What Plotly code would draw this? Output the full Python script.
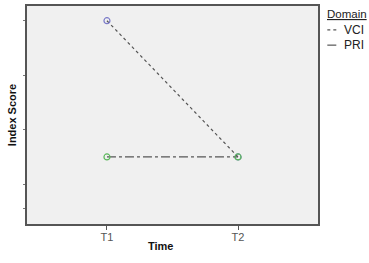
import plotly.graph_objects as go

times = ["T1", "T2"]
x_pos = [0, 1]
vci = [110, 85]
pri = [85, 85]
y_ticks = [110, 100, 90, 80, 75.5]

fig = go.Figure()
fig.add_trace(go.Scatter(x=x_pos, y=vci, mode="lines+markers", name="VCI",
                         line=dict(color="#555555", width=1.2, dash="dot"),
                         marker=dict(symbol="circle-open", size=6, color="#7a7ac8", line=dict(width=1.2))))
fig.add_trace(go.Scatter(x=x_pos, y=pri, mode="lines+markers", name="PRI",
                         line=dict(color="#555555", width=1.2, dash="dashdot"),
                         marker=dict(symbol="circle-open", size=6, color="#5cb85c", line=dict(width=1.2))))

fig.update_layout(
    width=369, height=263,
    margin=dict(l=27, r=51, t=4, b=39),
    paper_bgcolor="white", plot_bgcolor="#f0f0f0",
    showlegend=False,
    font=dict(family="Liberation Sans, Arial", size=11, color="#222"),
)
fig.update_xaxes(range=[-0.61, 1.61], tickvals=x_pos, ticktext=times, showgrid=False, zeroline=False,
                 showline=True, linecolor="#555", linewidth=1.5, mirror=True,
                 ticks="outside", ticklen=4, tickcolor="#555", ticklabelstandoff=-2,
                 tickfont=dict(size=11, color="#555"))
fig.update_yaxes(range=[72.7, 112.7], tickvals=y_ticks, showticklabels=False, showgrid=False, zeroline=False,
                 showline=True, linecolor="#555", linewidth=1.5, mirror=True,
                 ticks="outside", ticklen=2, tickcolor="#777",
                 title=dict(text="<b>Index Score</b>", font=dict(size=11, color="#111"), standoff=4))

fig.add_annotation(xref="paper", yref="paper", x=(160 - 27) / 291, y=-(246 - 224) / 220,
                   xanchor="center", yanchor="middle", text="<b>Time</b>", showarrow=False,
                   font=dict(size=11, color="#111"))

# manual legend
fig.add_annotation(xref="paper", yref="paper", x=1.025, y=1.0, xanchor="left", yanchor="top",
                   text='<span style="text-decoration:underline">Domain</span>', showarrow=False,
                   font=dict(size=11.5, color="#222"))
legend_items = [("VCI", "dot"), ("PRI", "dashdot")]
for i, (name, dash) in enumerate(legend_items):
    ypx = 28 + i * 15.5
    yp = 1 - (ypx - 4) / 220
    fig.add_shape(type="line", xref="paper", yref="paper", x0=1.032, x1=1.072, y0=yp, y1=yp,
                  line=dict(color="#555", width=1.2, dash=dash))
    fig.add_annotation(xref="paper", yref="paper", x=1.083, y=yp, xanchor="left", yanchor="middle",
                       text=name, showarrow=False, font=dict(size=12, color="#222"))

fig.write_html("out.html")
